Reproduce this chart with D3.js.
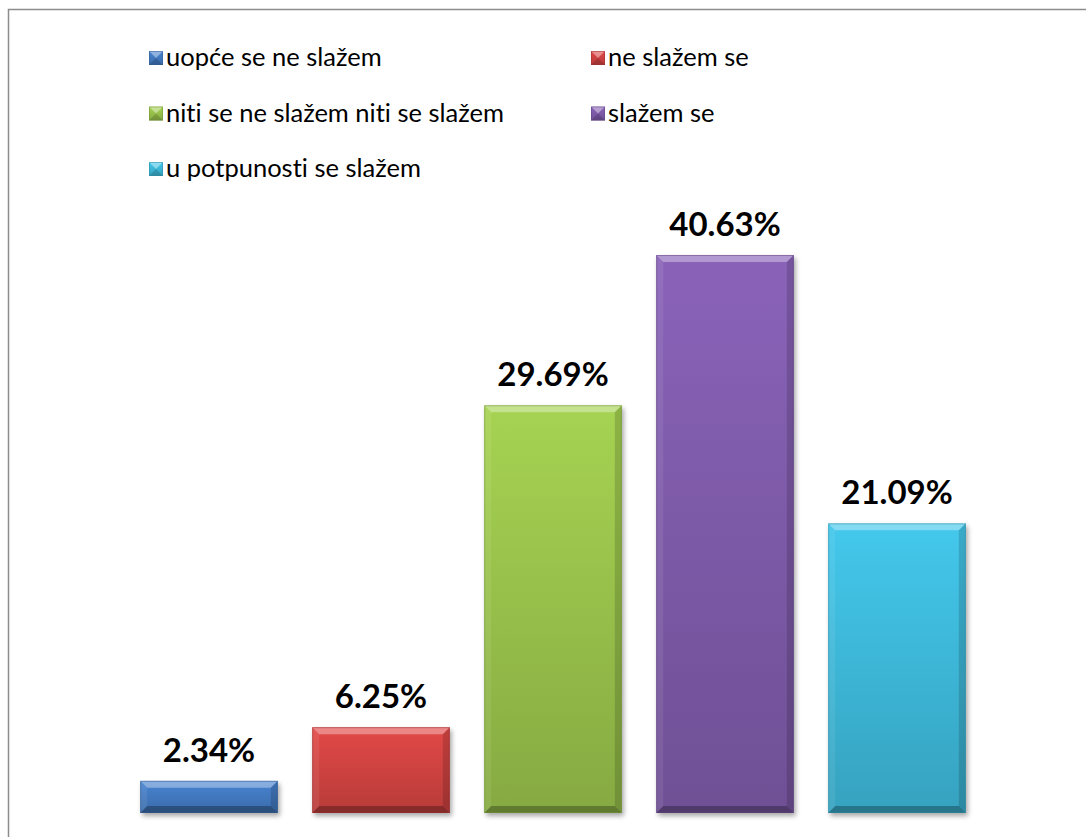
<!DOCTYPE html>
<html>
<head>
<meta charset="utf-8">
<script src="https://cdn.jsdelivr.net/npm/d3@7"></script>
<style>
  body { margin: 0; background: #fff; }
  svg { display: block; }
  text { font-variant-ligatures: none; font-feature-settings: "liga" 0; }
</style>
</head>
<body>
<svg id="chart" width="1086" height="837"></svg>
<script>
// Data
var categories = ["uopće se ne slažem", "ne slažem se", "niti se ne slažem niti se slažem", "slažem se", "u potpunosti se slažem"];
var values = [2.34, 6.25, 29.69, 40.63, 21.09];
var colors = ["#4279c0", "#cf4341", "#98c14b", "#7e5ba9", "#3db7d8"];

var svg = d3.select("svg#chart");
var W = 1086, H = 837;

// outer frame (runs off the right and bottom edge)
svg.append("rect").attr("x", 8.5).attr("y", 9.5).attr("width", W).attr("height", H)
    .attr("fill", "#fff").attr("stroke", "#8c8c8c").attr("stroke-width", 1.5);

var x = d3.scaleBand().domain(categories).range([123, 983]).paddingInner(0.2).paddingOuter(0.1);
var y = d3.scaleLinear().domain([0, 45]).range([813, 195]);

var defs = svg.append("defs");
var shadow = defs.append("filter").attr("id", "shadow").attr("x", "-10%").attr("y", "-10%").attr("width", "130%").attr("height", "130%");
shadow.append("feGaussianBlur").attr("stdDeviation", 2.5);

categories.forEach(function(c, i) {
    var g = defs.append("linearGradient").attr("id", "grad" + i).attr("x1", 0).attr("y1", 0).attr("x2", 0).attr("y2", 1);
    g.append("stop").attr("offset", "0%").attr("stop-color", d3.color(colors[i]).brighter(0.25));
    g.append("stop").attr("offset", "100%").attr("stop-color", d3.color(colors[i]).darker(0.35));
});

// bars with bevel
var bars = svg.append("g").selectAll("g.bar").data(values).enter().append("g").attr("class", "bar");

function bevel(sel, x0, y0, w, h, b) {
    sel.append("polygon").attr("points", [[x0, y0], [x0 + w, y0], [x0 + w - b, y0 + b], [x0 + b, y0 + b]].join(" "))
        .attr("fill", "#fff").attr("opacity", 0.35);
    sel.append("polygon").attr("points", [[x0, y0 + h], [x0 + w, y0 + h], [x0 + w - b, y0 + h - b], [x0 + b, y0 + h - b]].join(" "))
        .attr("fill", "#000").attr("opacity", 0.28);
    sel.append("polygon").attr("points", [[x0, y0], [x0 + b, y0 + b], [x0 + b, y0 + h - b], [x0, y0 + h]].join(" "))
        .attr("fill", "#fff").attr("opacity", 0.08);
    sel.append("polygon").attr("points", [[x0 + w, y0], [x0 + w - b, y0 + b], [x0 + w - b, y0 + h - b], [x0 + w, y0 + h]].join(" "))
        .attr("fill", "#000").attr("opacity", 0.15);
}

bars.each(function(d, i) {
    var sel = d3.select(this);
    var x0 = x(categories[i]), w = x.bandwidth(), y0 = y(d), h = y(0) - y(d);
    sel.append("rect").attr("x", x0 + 2).attr("y", y0 + 3).attr("width", w).attr("height", h)
        .attr("fill", "#000").attr("opacity", 0.35).attr("filter", "url(#shadow)");
    sel.append("rect").attr("x", x0).attr("y", y0).attr("width", w).attr("height", h)
        .attr("fill", "url(#grad" + i + ")");
    bevel(sel, x0, y0, w, h, Math.min(7, h / 2));
    sel.append("rect").attr("x", x0 + 0.5).attr("y", y0 + 0.5).attr("width", w - 1).attr("height", h - 1)
        .attr("fill", "none").attr("stroke", d3.color(colors[i]).darker(0.8)).attr("stroke-opacity", 0.5);
});

// value labels
svg.append("g").selectAll("text").data(values).enter().append("text")
    .attr("x", function(d, i) { return x(categories[i]) + x.bandwidth() / 2; })
    .attr("y", function(d) { return y(d) - 19; })
    .attr("text-anchor", "middle")
    .style("font-family", "Lato, 'Open Sans', sans-serif").style("font-weight", "bold").style("font-size", "33px")
    .attr("fill", "#000")
    .text(function(d) { return d.toFixed(2) + "%"; });

// legend, two columns
var legend = svg.append("g").selectAll("g").data(categories).enter().append("g")
    .attr("transform", function(d, i) { return "translate(" + (i % 2 ? 591 : 149) + "," + (51 + Math.floor(i / 2) * 55.5) + ")"; });
legend.append("rect").attr("width", 14).attr("height", 14).attr("fill", function(d, i) { return "url(#grad" + i + ")"; });
legend.append("polygon").attr("points", "0,0 14,0 7,7").attr("fill", "#fff").attr("opacity", 0.4);
legend.append("polygon").attr("points", "0,14 14,14 7,7").attr("fill", "#000").attr("opacity", 0.15);
legend.append("rect").attr("x", 0.5).attr("y", 0.5).attr("width", 13).attr("height", 13).attr("fill", "none")
    .attr("stroke", function(d, i) { return d3.color(colors[i]).darker(0.8); }).attr("stroke-opacity", 0.5);
legend.append("text").attr("x", 17).attr("y", 15)
    .style("font-family", "Lato, 'Open Sans', sans-serif").style("font-size", "25.5px").attr("fill", "#000")
    .text(function(d) { return d; });
</script>
</body>
</html>
